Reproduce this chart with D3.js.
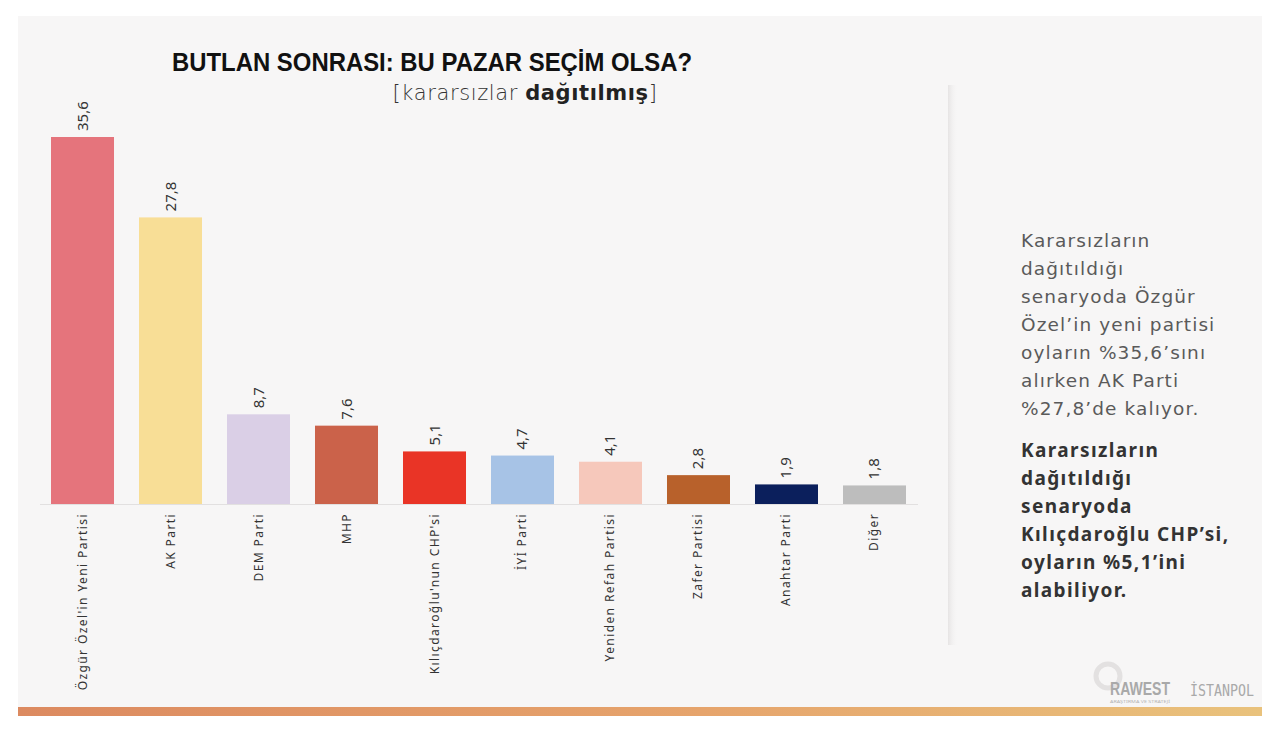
<!DOCTYPE html>
<html>
<head>
<meta charset="utf-8">
<script src="https://cdn.jsdelivr.net/npm/d3@7"></script>
<style>
  html, body { margin: 0; padding: 0; background: #fff; }
  svg { display: block; font-family: "Noto Sans", "DejaVu Sans", sans-serif; }
</style>
</head>
<body>
<svg id="chart" width="1280" height="734"></svg>
<script>
// party names, shares (%) and colours
var parties = ["Özgür Özel'in Yeni Partisi", "AK Parti", "DEM Parti", "MHP", "Kılıçdaroğlu'nun CHP'si",
               "İYİ Parti", "Yeniden Refah Partisi", "Zafer Partisi", "Anahtar Parti", "Diğer"];
var shares  = [35.6, 27.8, 8.7, 7.6, 5.1, 4.7, 4.1, 2.8, 1.9, 1.8];
var colors  = ["#e5747c", "#f8de96", "#dacfe6", "#cb624a", "#e93426", "#a7c3e6", "#f6c8bb", "#b8612b", "#0b1f5c", "#bdbdbd"];

var noteLines = ["Kararsızların", "dağıtıldığı", "senaryoda Özgür", "Özel’in yeni partisi",
                 "oyların %35,6’sını", "alırken AK Parti", "%27,8’de kalıyor."];
var boldLines = ["Kararsızların", "dağıtıldığı", "senaryoda", "Kılıçdaroğlu CHP’si,",
                 "oyların %5,1’ini", "alabiliyor."];

var svg = d3.select("#chart");
var defs = svg.append("defs");

// background panel + bottom gradient band
var grad = defs.append("linearGradient").attr("id", "band");
grad.append("stop").attr("offset", "0%").attr("stop-color", "#dc8a60");
grad.append("stop").attr("offset", "55%").attr("stop-color", "#e6a46c");
grad.append("stop").attr("offset", "100%").attr("stop-color", "#e9c27c");

var shade = defs.append("linearGradient").attr("id", "shade");
shade.append("stop").attr("offset", "0%").attr("stop-color", "#e6e4e4").attr("stop-opacity", 1);
shade.append("stop").attr("offset", "100%").attr("stop-color", "#f7f6f6").attr("stop-opacity", 0);

svg.append("rect").attr("x", 18).attr("y", 16).attr("width", 1244).attr("height", 692).attr("fill", "#f7f6f6");
svg.append("rect").attr("x", 18).attr("y", 707).attr("width", 1244).attr("height", 9).attr("fill", "url(#band)");

// faint shadow edge of the chart card
svg.append("rect").attr("x", 948).attr("y", 85).attr("width", 10).attr("height", 560).attr("fill", "url(#shade)");

// title
svg.append("text").attr("x", 172).attr("y", 71)
  .attr("font-family", "'Liberation Sans Narrow', 'Liberation Sans', sans-serif")
  .attr("font-weight", 700).attr("font-size", 26).attr("fill", "#111")
  .attr("textLength", 520).attr("lengthAdjust", "spacingAndGlyphs")
  .text("BUTLAN SONRASI: BU PAZAR SEÇİM OLSA?");

var sub = svg.append("text").attr("x", 525).attr("y", 100).attr("text-anchor", "middle")
  .attr("font-family", "'DejaVu Sans', sans-serif")
  .attr("font-size", 21).attr("letter-spacing", 0.6).attr("fill", "#222");
sub.append("tspan").attr("font-weight", 300).attr("fill", "#333").text("[kararsızlar ");
sub.append("tspan").attr("font-weight", 700).text("dağıtılmış");
sub.append("tspan").attr("font-weight", 300).attr("fill", "#333").text("]");

// scales
var baseY = 504;
var x = d3.scaleBand().domain(parties).range([40, 917]).paddingInner(0.284).paddingOuter(0.125);
var y = d3.scaleLinear().domain([0, 35.6]).range([baseY, 137]);

var g = svg.append("g");

g.selectAll("rect.bar").data(parties).enter().append("rect")
  .attr("class", "bar")
  .attr("x", function(d) { return x(d); })
  .attr("width", x.bandwidth())
  .attr("y", function(d, i) { return y(shares[i]); })
  .attr("height", function(d, i) { return baseY - y(shares[i]); })
  .attr("fill", function(d, i) { return colors[i]; });

// baseline
svg.append("line").attr("x1", 40).attr("x2", 918).attr("y1", baseY + 0.5).attr("y2", baseY + 0.5)
  .attr("stroke", "#e2e0e0").attr("stroke-width", 1);

// value labels, rotated
g.selectAll("text.val").data(parties).enter().append("text")
  .attr("class", "val")
  .attr("transform", function(d, i) {
    return "translate(" + (x(d) + x.bandwidth() / 2 + 5) + "," + (y(shares[i]) - 6) + ") rotate(-90)";
  })
  .attr("font-size", 15).attr("fill", "#333")
  .text(function(d, i) { return String(shares[i]).replace(".", ","); });

// category labels, rotated
g.selectAll("text.cat").data(parties).enter().append("text")
  .attr("class", "cat")
  .attr("transform", function(d) {
    return "translate(" + (x(d) + x.bandwidth() / 2 + 4) + "," + (baseY + 9) + ") rotate(-90)";
  })
  .attr("text-anchor", "end")
  .attr("font-size", 12).attr("letter-spacing", 1.4).attr("fill", "#333")
  .text(function(d) { return d; });

// side note
var note = svg.append("g").attr("transform", "translate(1021,0)");
note.selectAll("text.n").data(noteLines).enter().append("text")
  .attr("class", "n")
  .attr("y", function(d, i) { return 247 + i * 28; })
  .attr("font-family", "'DejaVu Sans', sans-serif")
  .attr("font-size", 18.5).attr("letter-spacing", 1.1).attr("fill", "#5a5a5a")
  .text(function(d) { return d; });
note.selectAll("text.b").data(boldLines).enter().append("text")
  .attr("class", "b")
  .attr("y", function(d, i) { return 457 + i * 28; })
  .attr("font-size", 19).attr("font-weight", 700).attr("letter-spacing", 1.4).attr("fill", "#333")
  .text(function(d) { return d; });

// logos (approximate)
svg.append("circle").attr("cx", 1108).attr("cy", 676).attr("r", 12)
  .attr("fill", "none").attr("stroke", "#e3e1e1").attr("stroke-width", 5);
svg.append("text").attr("x", 1110).attr("y", 695)
  .attr("font-family", "'Liberation Sans Narrow', sans-serif").attr("font-weight", 700)
  .attr("font-size", 18).attr("fill", "#a9a9a9")
  .attr("textLength", 60).attr("lengthAdjust", "spacingAndGlyphs").text("RAWEST");
svg.append("text").attr("x", 1110).attr("y", 703)
  .attr("font-size", 4).attr("fill", "#b5b5b5")
  .attr("textLength", 60).attr("lengthAdjust", "spacingAndGlyphs").text("ARAŞTIRMA VE STRATEJİ");
svg.append("text").attr("x", 1190).attr("y", 696)
  .attr("font-family", "'DejaVu Sans Mono', monospace")
  .attr("font-size", 15).attr("fill", "#a9a9a9")
  .attr("textLength", 64).attr("lengthAdjust", "spacingAndGlyphs").text("İSTANPOL");
</script>
</body>
</html>
